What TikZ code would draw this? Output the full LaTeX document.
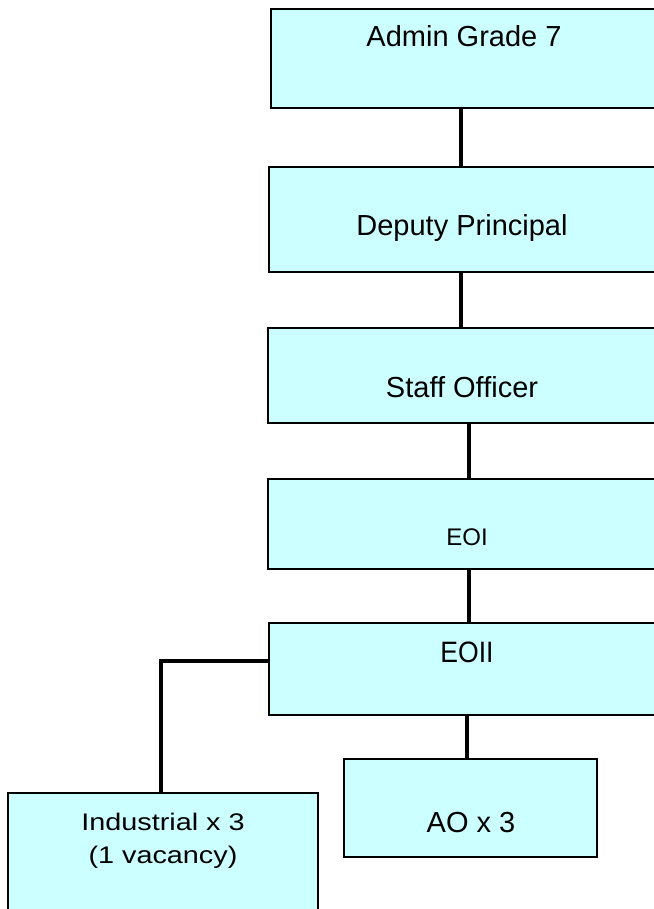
\documentclass[tikz,border=0pt]{standalone}
\usepackage{fontspec}
\setmainfont{Liberation Sans}[Ligatures=CommonOff]
\newfontfamily\indfont{Liberation Sans}[FakeStretch=1.2,Ligatures=CommonOff]
\newfontfamily\narrowfont{Liberation Sans}[FakeStretch=0.9,Ligatures=CommonOff]
\usetikzlibrary{calc}
\definecolor{boxfill}{HTML}{CCFFFF}
\tikzset{
  box/.style={draw=black, fill=boxfill, line width=1.2pt, inner sep=0pt, rectangle},
  lbl/.style={anchor=base, inner sep=0pt, font=\fontsize{29}{33}\selectfont},
  conn/.style={draw=black, line width=4pt},
}
\begin{document}
\begin{tikzpicture}[x=1pt, y=-1pt]
\useasboundingbox (0,0) rectangle (653,909);
% boxes
\node[box, minimum width=386pt, minimum height=99pt] (admin) at (464,58.5) {};
\node[box, minimum width=387pt, minimum height=105pt] (deputy) at (462.5,219.5) {};
\node[box, minimum width=389pt, minimum height=95pt] (staff) at (462.5,375.5) {};
\node[box, minimum width=398pt, minimum height=90pt] (eoi) at (467,524) {};
\node[box, minimum width=395pt, minimum height=92pt] (eoii) at (466.5,669) {};
\node[box, minimum width=253pt, minimum height=98pt] (ao) at (470.5,808) {};
\node[box, minimum width=310pt, minimum height=142pt] (ind) at (163,864) {};
% texts
\node[lbl] (tadmin) at (464,47) {Admin Grade 7};
\node[lbl] (tdeputy) at (462,236) {Deputy Principal};
\node[lbl] (tstaff) at (462,397) {Staff Officer};
\node[lbl, font=\fontsize{24}{28}\selectfont] (teoi) at (467,545) {EOI};
\node[lbl, font=\narrowfont\fontsize{29.5}{33}\selectfont] (teoii) at (467,662) {EOII};
\node[lbl] (tao) at (471,832) {AO x 3};
\node[lbl, font=\indfont\fontsize{24}{33}\selectfont] (tind1) at (163,830) {Industrial x 3};
\node[lbl, font=\indfont\fontsize{24}{33}\selectfont] (tind2) at (163,863) {(1 vacancy)};
% connectors
\draw[conn] ([xshift=-3pt]admin.south) -- ([xshift=-1.5pt]deputy.north);
\draw[conn] ([xshift=-1.5pt]deputy.south) -- ([xshift=-1.5pt]staff.north);
\draw[conn] ([xshift=6.5pt]staff.south) -- ([xshift=2pt]eoi.north);
\draw[conn] ([xshift=2pt]eoi.south) -- ([xshift=2.5pt]eoii.north);
\draw[conn] ([xshift=0.5pt]eoii.south) -- ([xshift=-3.5pt]ao.north);
\draw[conn] ([yshift=8pt]eoii.west) -| ([xshift=-2pt]ind.north);
\end{tikzpicture}
\end{document}
